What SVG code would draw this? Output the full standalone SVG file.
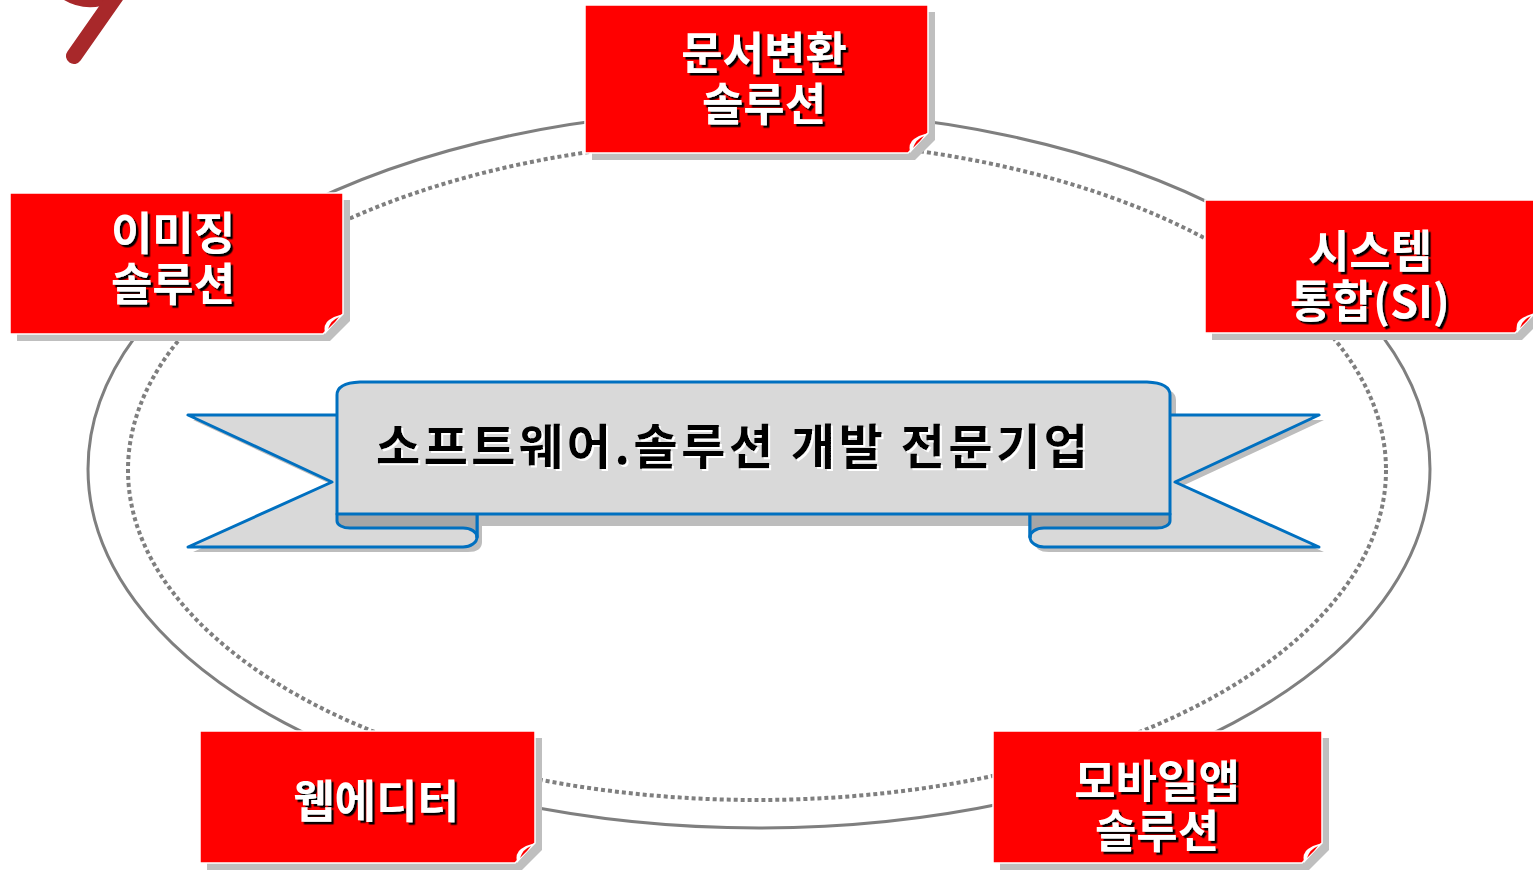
<svg xmlns="http://www.w3.org/2000/svg" xmlns:xlink="http://www.w3.org/1999/xlink" width="1533" height="870" viewBox="0 0 1533 870">
<style>
.box{fill:#ff0000;stroke:#ffffff;stroke-width:1.5}
.sh{fill:#bfbfbf}
.lbl{font-family:"Noto Sans CJK KR","Noto Sans",sans-serif;font-weight:bold;font-size:45px;text-anchor:middle;fill:#ffffff;filter:url(#dsBlack)}
.rib{fill:#d9d9d9;stroke:#0070c0;stroke-width:3;stroke-linejoin:round}
.ribline{fill:none;stroke:#0070c0;stroke-width:3;stroke-linecap:round}
.curl{fill:#a6a6a6}
.ribsh{fill:#bdbdbd}
.btxt{font-family:"Noto Sans CJK KR","Noto Sans",sans-serif;font-weight:bold;font-size:48px;text-anchor:middle;fill:#000000;filter:url(#dsWhite)}
</style>
<defs>
<filter id="dsBlack" x="-10%" y="-20%" width="120%" height="140%">
<feDropShadow dx="2.5" dy="2.5" stdDeviation="0" flood-color="#000000" flood-opacity="1"/>
</filter>
<filter id="dsWhite" x="-10%" y="-20%" width="120%" height="140%">
<feDropShadow dx="2" dy="2" stdDeviation="0" flood-color="#ffffff" flood-opacity="1"/>
</filter>
<g id="flap">
<path d="M0,-20 L-18,0 Q-20,-10 -14,-14 Q-8,-18 0,-20 Z" fill="#ffffff"/>
<path d="M-4,-17 Q-12,-14 -15,-5 L-8,-12 Z" fill="#ff0000"/>
</g>
<g id="halfShadow">
<path class="ribsh" d="M193,420 L350,420 L350,519 L482,519 L482,542 Q482,552 468,552 L193,552 L337,487 Z"/>
</g>
<g id="halfTail">
<path class="rib" d="M188,415 L345,415 L345,514 L477,514 L477,537 A14,10 0 0 1 463,547 L188,547 L332,482 Z"/>
<path class="curl" d="M337,514 L477,514 L477,537 A14,9 0 0 0 463,528 L350,528 A13,7 0 0 1 337,521 Z"/>
<path class="ribline" d="M337,514 L337,521 A13,7 0 0 0 350,528 L463,528 A14,9 0 0 1 477,537"/>
<path class="ribline" d="M477,514 L477,537"/>
</g>
</defs>

<g id="logo">
<path d="M64,-6 Q84,8 112,-2" fill="none" stroke="#a8282a" stroke-width="10" stroke-linecap="round"/>
<path d="M116,-4 L74,56" fill="none" stroke="#a8282a" stroke-width="16" stroke-linecap="round"/>
</g>

<g id="ring">
<ellipse cx="759" cy="469" rx="671" ry="359" fill="none" stroke="#7f7f7f" stroke-width="3"/>
<ellipse cx="757" cy="470" rx="629" ry="330" fill="none" stroke="#7f7f7f" stroke-width="4" stroke-dasharray="4 3"/>
</g>

<g id="banner">
<use xlink:href="#halfShadow"/>
<use xlink:href="#halfShadow" transform="matrix(-1,0,0,1,1517,0)"/>
<path class="ribsh" d="M343,526 L343,400 Q343,388 366,387 L1153,387 Q1176,388 1176,400 L1176,526 Z"/>
<use xlink:href="#halfTail"/>
<use xlink:href="#halfTail" transform="matrix(-1,0,0,1,1507,0)"/>
<path class="rib" d="M337,514 L337,395 Q337,383 360,382 L1147,382 Q1170,383 1170,395 L1170,514 Z"/>
<text class="btxt" x="732" y="464" textLength="712" lengthAdjust="spacing">소프트웨어.솔루션 개발 전문기업</text>
</g>

<g id="node-doc">
<path class="sh" d="M592,12 H935 V140 L915,160 H592 Z"/>
<path class="box" d="M585,5 H928 V133 L908,153 H585 Z"/>
<use xlink:href="#flap" x="928" y="153"/>
<text class="lbl"><tspan x="764" y="70">문서변환</tspan><tspan x="764" y="121">솔루션</tspan></text>
</g>

<g id="node-imaging">
<path class="sh" d="M17,200 H350 V321 L330,341 H17 Z"/>
<path class="box" d="M10,193 H343 V314 L323,334 H10 Z"/>
<use xlink:href="#flap" x="343" y="334"/>
<text class="lbl"><tspan x="173" y="250">이미징</tspan><tspan x="173" y="301">솔루션</tspan></text>
</g>

<g id="node-si">
<path class="sh" d="M1212,207 H1542 V320 L1522,340 H1212 Z"/>
<path class="box" d="M1205,200 H1535 V313 L1515,333 H1205 Z"/>
<use xlink:href="#flap" x="1535" y="333"/>
<text class="lbl"><tspan x="1370" y="268">시스템</tspan><tspan x="1370" y="318">통합(SI)</tspan></text>
</g>

<g id="node-web">
<path class="sh" d="M207,738 H542 V850 L522,870 H207 Z"/>
<path class="box" d="M200,731 H535 V843 L515,863 H200 Z"/>
<use xlink:href="#flap" x="535" y="863"/>
<text class="lbl" x="376" y="818">웹에디터</text>
</g>

<g id="node-mobile">
<path class="sh" d="M1000,738 H1329 V850 L1309,870 H1000 Z"/>
<path class="box" d="M993,731 H1322 V843 L1302,863 H993 Z"/>
<use xlink:href="#flap" x="1322" y="863"/>
<text class="lbl"><tspan x="1157" y="798">모바일앱</tspan><tspan x="1157" y="848">솔루션</tspan></text>
</g>

<g id="connectors"></g>
</svg>
